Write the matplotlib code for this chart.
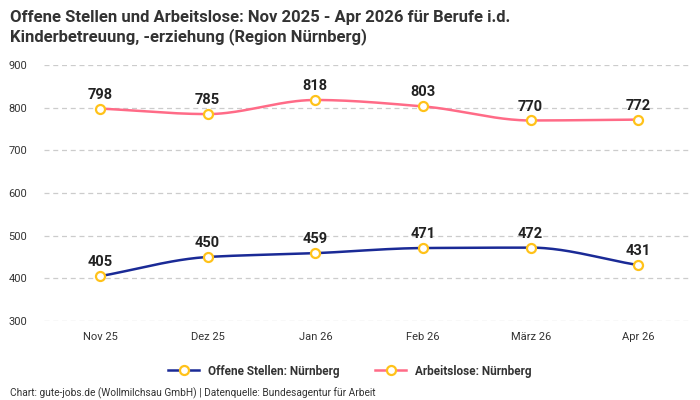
import numpy as np
import matplotlib.pyplot as plt

plt.rcParams['font.family'] = ['Roboto', 'DejaVu Sans']

months = ['Nov 25', 'Dez 25', 'Jan 26', 'Feb 26', 'März 26', 'Apr 26']
offene = [405, 450, 459, 471, 472, 431]
arbeitslose = [798, 785, 818, 803, 770, 772]

NAVY = '#1a2a96'
PINK = '#ff6b87'
YELLOW = '#ffc21a'


def pchip(x, y, n=40):
    # monotone cubic (Fritsch-Carlson) for smooth line drawing
    x = np.asarray(x, float)
    y = np.asarray(y, float)
    h = np.diff(x)
    d = np.diff(y) / h
    m = np.zeros_like(y)
    m[0], m[-1] = d[0], d[-1]
    for i in range(1, len(y) - 1):
        if d[i - 1] * d[i] <= 0:
            m[i] = 0
        else:
            w1 = 2 * h[i] + h[i - 1]
            w2 = h[i] + 2 * h[i - 1]
            m[i] = (w1 + w2) / (w1 / d[i - 1] + w2 / d[i])
    xs, ys = [], []
    for i in range(len(x) - 1):
        t = np.linspace(0, 1, n)
        h00 = 2 * t**3 - 3 * t**2 + 1
        h10 = t**3 - 2 * t**2 + t
        h01 = -2 * t**3 + 3 * t**2
        h11 = t**3 - t**2
        xs.append(x[i] + t * h[i])
        ys.append(h00 * y[i] + h10 * h[i] * m[i] + h01 * y[i + 1] + h11 * h[i] * m[i + 1])
    return np.concatenate(xs), np.concatenate(ys)


fig = plt.figure(figsize=(7, 4), dpi=100)
ax = fig.add_axes([44 / 700, 1 - 321 / 400, 646 / 700, 256 / 400])

x = np.arange(len(months))
for vals, col, lab in [(offene, NAVY, 'Offene Stellen: Nürnberg'),
                       (arbeitslose, PINK, 'Arbeitslose: Nürnberg')]:
    sx, sy = pchip(x, vals)
    ax.plot(sx, sy, color=col, lw=1.8, zorder=3)
    ax.plot(x, vals, ls='none', marker='o', ms=6.5, mfc='white', mec=YELLOW, mew=1.6, zorder=4)
    ax.plot([], [], color=col, lw=1.8, marker='o', ms=6.5, mfc='white', mec=YELLOW, mew=1.6, label=lab)
    for xi, v in zip(x, vals):
        ax.annotate(str(v), (xi, v), xytext=(0, 5), textcoords='offset points',
                    ha='center', va='bottom', fontsize=10.5, fontweight='bold', color='#222222')

ax.set_xlim(-0.52, 5.48)
ax.set_ylim(300, 900)
ax.set_yticks(range(300, 901, 100))
ax.set_xticks(x)
ax.set_xticklabels(months)
ax.grid(axis='y', color='#cccccc', ls=(0, (4, 3)), lw=0.9)
for s in ax.spines.values():
    s.set_visible(False)
ax.tick_params(length=0, labelsize=8, colors='#333333')
ax.tick_params(axis='y', pad=12)
ax.tick_params(axis='x', pad=8)

fig.text(10 / 700, 1 - 10 / 400, 'Offene Stellen und Arbeitslose: Nov 2025 - Apr 2026 für Berufe i.d.\nKinderbetreuung, -erziehung (Region Nürnberg)',
         ha='left', va='top', fontsize=12, fontweight='bold', color='#333333', linespacing=1.25)

leg = fig.legend(loc='center', bbox_to_anchor=(0.5, 1 - 371 / 400), ncol=2, frameon=False,
                 fontsize=8.5, handlelength=2.6, columnspacing=3)
for t in leg.get_texts():
    t.set_fontweight('bold')
    t.set_color('#333333')

fig.text(10 / 700, 1 - 393 / 400, 'Chart: gute-jobs.de (Wollmilchsau GmbH) | Datenquelle: Bundesagentur für Arbeit',
         ha='left', va='center', fontsize=7.3, color='#333333')

fig.savefig('out.png', dpi=100)
